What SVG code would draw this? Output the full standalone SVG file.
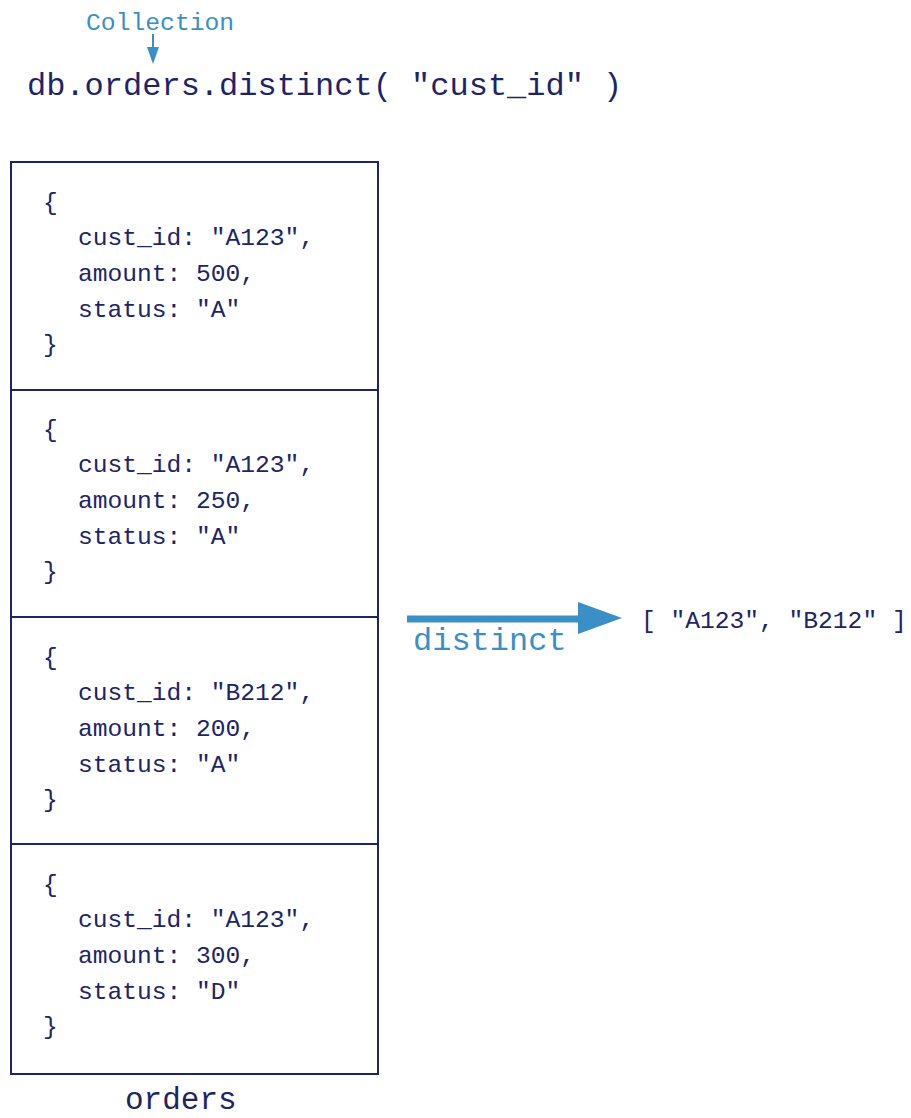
<svg xmlns="http://www.w3.org/2000/svg" width="911" height="1118" viewBox="0 0 911 1118">
  <style>
    text { font-family: "Liberation Mono", "DejaVu Sans Mono", monospace; }
    .navy { fill: #1d2468; }
    .blue { fill: #3a8fc6; }
    .doc { font-size: 24.6px; fill: #1d2468; }
    .box { fill: none; stroke: #1d2468; stroke-width: 2; }
  </style>

  <!-- command line with collection pointer -->
  <g id="command">
    <text x="86" y="30" class="blue" font-size="24.7">Collection</text>
    <text x="27" y="95" class="navy" font-size="32">db.orders.distinct( "cust_id" )</text>
  </g>

  <!-- orders collection -->
  <g id="orders">
    <rect class="box" x="11" y="162" width="367" height="912"/>
    <line class="box" x1="11" y1="390" x2="378" y2="390"/>
    <line class="box" x1="11" y1="617" x2="378" y2="617"/>
    <line class="box" x1="11" y1="844" x2="378" y2="844"/>
    <text x="125" y="1109" class="navy" font-size="31">orders</text>
  </g>

  <g id="doc1" class="doc">
    <text x="43" y="210">{</text>
    <text x="78" y="245">cust_id: "A123",</text>
    <text x="78" y="281">amount: 500,</text>
    <text x="78" y="317">status: "A"</text>
    <text x="43" y="352">}</text>
  </g>
  <g id="doc2" class="doc">
    <text x="43" y="437">{</text>
    <text x="78" y="472">cust_id: "A123",</text>
    <text x="78" y="508">amount: 250,</text>
    <text x="78" y="544">status: "A"</text>
    <text x="43" y="579">}</text>
  </g>
  <g id="doc3" class="doc">
    <text x="43" y="665">{</text>
    <text x="78" y="700">cust_id: "B212",</text>
    <text x="78" y="736">amount: 200,</text>
    <text x="78" y="772">status: "A"</text>
    <text x="43" y="807">}</text>
  </g>
  <g id="doc4" class="doc">
    <text x="43" y="892">{</text>
    <text x="78" y="927">cust_id: "A123",</text>
    <text x="78" y="963">amount: 300,</text>
    <text x="78" y="999">status: "D"</text>
    <text x="43" y="1034">}</text>
  </g>

  <!-- result -->
  <g id="result">
    <text x="641" y="628" class="doc">[ "A123", "B212" ]</text>
  </g>

  <!-- connectors -->
  <g id="connectors">
    <line x1="153" y1="34" x2="153" y2="50" stroke="#3a8fc6" stroke-width="2"/>
    <polygon points="147,47 159,47 153,64" fill="#3a8fc6"/>
    <line x1="407" y1="619" x2="582" y2="619" stroke="#3a8fc6" stroke-width="7"/>
    <polygon points="578,602 622,618 578,634" fill="#3a8fc6"/>
    <text x="413" y="650" class="blue" font-size="32">distinct</text>
  </g>
</svg>
